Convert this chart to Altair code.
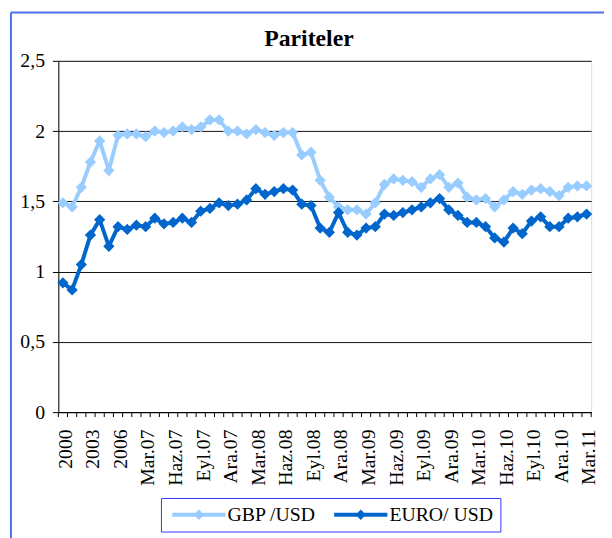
import altair as alt
import pandas as pd

categories = ["2000", "2001", "2002", "2003", "2004", "2005", "2006",
              "Oca.07", "Şub.07", "Mar.07", "Nis.07", "May.07", "Haz.07", "Tem.07", "Ağu.07", "Eyl.07", "Eki.07", "Kas.07", "Ara.07",
              "Oca.08", "Şub.08", "Mar.08", "Nis.08", "May.08", "Haz.08", "Tem.08", "Ağu.08", "Eyl.08", "Eki.08", "Kas.08", "Ara.08",
              "Oca.09", "Şub.09", "Mar.09", "Nis.09", "May.09", "Haz.09", "Tem.09", "Ağu.09", "Eyl.09", "Eki.09", "Kas.09", "Ara.09",
              "Oca.10", "Şub.10", "Mar.10", "Nis.10", "May.10", "Haz.10", "Tem.10", "Ağu.10", "Eyl.10", "Eki.10", "Kas.10", "Ara.10",
              "Oca.11", "Şub.11", "Mar.11"]

gbp_usd = [1.49, 1.46, 1.60, 1.78, 1.93, 1.72, 1.97,
           1.98, 1.98, 1.96, 2.00, 1.99, 2.00, 2.03, 2.01, 2.03, 2.08, 2.08, 2.00,
           2.00, 1.98, 2.01, 1.99, 1.97, 1.99, 1.99, 1.83, 1.85, 1.65, 1.53, 1.46,
           1.44, 1.44, 1.41, 1.49, 1.62, 1.66, 1.65, 1.64, 1.60, 1.66, 1.69, 1.60,
           1.63, 1.53, 1.51, 1.52, 1.46, 1.51, 1.57, 1.55, 1.58, 1.59, 1.57, 1.54,
           1.60, 1.61, 1.61]

euro_usd = [0.92, 0.87, 1.05, 1.26, 1.37, 1.18, 1.32,
            1.30, 1.33, 1.32, 1.38, 1.34, 1.35, 1.38, 1.35, 1.43, 1.45, 1.49, 1.47,
            1.48, 1.51, 1.59, 1.55, 1.57, 1.59, 1.58, 1.48, 1.47, 1.31, 1.28, 1.42,
            1.28, 1.26, 1.31, 1.32, 1.41, 1.40, 1.42, 1.44, 1.46, 1.49, 1.52, 1.44,
            1.40, 1.35, 1.35, 1.32, 1.24, 1.21, 1.31, 1.27, 1.36, 1.39, 1.32, 1.32,
            1.38, 1.39, 1.41]

series_names = ["GBP /USD", "EURO/ USD"]
series_colors = ["#99CCFF", "#0066CC"]
y_ticks = [0, 0.5, 1, 1.5, 2, 2.5]
labeled_categories = categories[::3]
chart_title = ["Pariteler"]

df = pd.DataFrame({
    "cat": categories * 2,
    "value": gbp_usd + euro_usd,
    "series": [series_names[0]] * len(categories) + [series_names[1]] * len(categories),
})
cat_df = pd.DataFrame({"cat": categories})
last_df = pd.DataFrame({"cat": categories[-1:]})
one_df = pd.DataFrame({"a": [0]})
title_df = pd.DataFrame({"t": chart_title})

SERIF = "Liberation Serif"
W, H = 540, 356

x_scale = alt.Scale(type="band", domain=categories, paddingInner=0, paddingOuter=0)
x_axis = alt.Axis(values=labeled_categories, ticks=False, labelAngle=-90, labelAlign="right",
                  labelBaseline="middle", labelPadding=17, labelOffset=3, labelFont=SERIF,
                  labelFontSize=20, labelColor="black", domainColor="black", domainWidth=1,
                  labelOverlap=False, labelFlush=False, grid=False, title=None)
x_enc = alt.X("cat:N", scale=x_scale, axis=x_axis)
y_enc = alt.Y("value:Q", scale=alt.Scale(domain=[0, 2.5], nice=False, zero=True),
              axis=alt.Axis(values=y_ticks, labelExpr="replace(toString(datum.value), '.', ',')",
                            labelFont=SERIF, labelFontSize=20, labelColor="black",
                            tickColor="black", tickSize=6, labelPadding=8,
                            domainColor="black", gridColor="#111", gridWidth=1, title=None))

# legend symbol: line (54px) with a diamond, drawn around an 11px symbol box
legend_path = "M-4.9,-0.36L4.9,-0.36L4.9,0.36L-4.9,0.36Z M0,-0.95L0.95,0L0,0.95L-0.95,0Z"
color_enc = alt.Color("series:N", scale=alt.Scale(domain=series_names, range=series_colors),
                      legend=alt.Legend(title=None, orient="none", legendX=104, legendY=443,
                                        direction="horizontal", symbolType=legend_path,
                                        symbolSize=121, symbolStrokeWidth=0, symbolOpacity=1,
                                        symbolOffset=21.5, labelOffset=19,
                                        labelFont=SERIF, labelFontSize=20, labelColor="black",
                                        columnPadding=14, padding=7,
                                        strokeColor="#3333FF", fillColor="white", labelLimit=0))

layers = []
for name, col in zip(series_names, series_colors):
    sub = alt.Chart(df).transform_filter(alt.datum.series == name)
    layers.append(sub.mark_line(strokeWidth=4, color=col).encode(x=x_enc, y=y_enc))
    layers.append(sub.mark_point(filled=True, shape="diamond", size=130, opacity=1)
                  .encode(x=x_enc, y=y_enc, color=color_enc))

ticks = alt.Chart(cat_df).mark_rule(color="black", strokeWidth=1).encode(
    x=alt.X("cat:N", scale=x_scale, axis=x_axis, bandPosition=0),
    y=alt.value(H), y2=alt.value(H + 5))
last_tick = alt.Chart(last_df).mark_rule(color="black", strokeWidth=1).encode(
    x=alt.X("cat:N", scale=x_scale, axis=x_axis, bandPosition=1),
    y=alt.value(H), y2=alt.value(H + 5))

frame_left = alt.Chart(one_df).mark_rule(color="#4F6FE8", strokeWidth=2).encode(
    x=alt.value(-48), y=alt.value(-49), y2=alt.value(490))
frame_top = alt.Chart(one_df).mark_rule(color="#4F6FE8", strokeWidth=2).encode(
    y=alt.value(-49), x=alt.value(-48), x2=alt.value(560))

title_text = alt.Chart(title_df).mark_text(font=SERIF, fontSize=24, fontWeight="bold",
                                          color="black", align="center", baseline="alphabetic").encode(
    text="t:N", x=alt.value(W / 2 - 16), y=alt.value(-15))

chart = alt.layer(ticks, last_tick, *layers, frame_left, frame_top, title_text).properties(
    width=W, height=H,
    autosize=alt.AutoSizeParams(type="none"),
    padding={"left": 51, "top": 50, "right": 13, "bottom": 124},
).configure_view(stroke="black", strokeWidth=1).configure(background="white")

chart.save("out.html", embed_options={"renderer": "svg", "actions": False})
